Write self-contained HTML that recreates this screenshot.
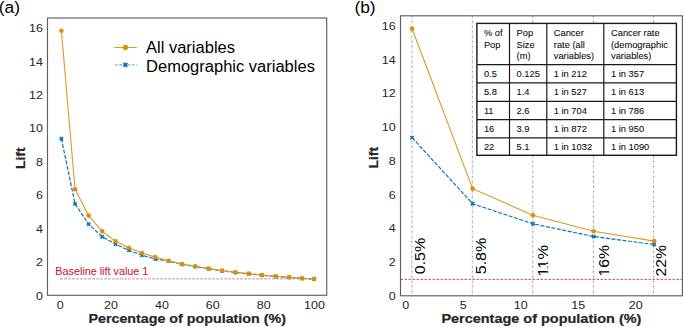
<!DOCTYPE html>
<html><head><meta charset="utf-8"><style>
html,body{margin:0;padding:0;background:#fff;width:685px;height:327px;overflow:hidden}
svg{display:block}
text{font-family:"Liberation Sans",sans-serif}
</style></head><body>
<svg width="685" height="327" viewBox="0 0 685 327">
<rect width="685" height="327" fill="#fff"/>
<text x="-1.2" y="12.6" font-size="17.4" fill="#000">(a)</text>
<text x="42.9" y="299.60" font-size="11.3" fill="#262626" text-anchor="end" textLength="6.95" lengthAdjust="spacingAndGlyphs">0</text>
<text x="42.9" y="266.16" font-size="11.3" fill="#262626" text-anchor="end" textLength="6.95" lengthAdjust="spacingAndGlyphs">2</text>
<text x="42.9" y="232.72" font-size="11.3" fill="#262626" text-anchor="end" textLength="6.95" lengthAdjust="spacingAndGlyphs">4</text>
<text x="42.9" y="199.28" font-size="11.3" fill="#262626" text-anchor="end" textLength="6.95" lengthAdjust="spacingAndGlyphs">6</text>
<text x="42.9" y="165.84" font-size="11.3" fill="#262626" text-anchor="end" textLength="6.95" lengthAdjust="spacingAndGlyphs">8</text>
<text x="42.9" y="132.40" font-size="11.3" fill="#262626" text-anchor="end" textLength="13.90" lengthAdjust="spacingAndGlyphs">10</text>
<text x="42.9" y="98.96" font-size="11.3" fill="#262626" text-anchor="end" textLength="13.90" lengthAdjust="spacingAndGlyphs">12</text>
<text x="42.9" y="65.52" font-size="11.3" fill="#262626" text-anchor="end" textLength="13.90" lengthAdjust="spacingAndGlyphs">14</text>
<text x="42.9" y="32.08" font-size="11.3" fill="#262626" text-anchor="end" textLength="13.90" lengthAdjust="spacingAndGlyphs">16</text>
<text x="60.23" y="309.0" font-size="11.3" fill="#262626" text-anchor="middle" textLength="6.95" lengthAdjust="spacingAndGlyphs">0</text>
<text x="111.09" y="309.0" font-size="11.3" fill="#262626" text-anchor="middle" textLength="13.90" lengthAdjust="spacingAndGlyphs">20</text>
<text x="161.95" y="309.0" font-size="11.3" fill="#262626" text-anchor="middle" textLength="13.90" lengthAdjust="spacingAndGlyphs">40</text>
<text x="212.81" y="309.0" font-size="11.3" fill="#262626" text-anchor="middle" textLength="13.90" lengthAdjust="spacingAndGlyphs">60</text>
<text x="263.67" y="309.0" font-size="11.3" fill="#262626" text-anchor="middle" textLength="13.90" lengthAdjust="spacingAndGlyphs">80</text>
<text x="314.53" y="309.0" font-size="11.3" fill="#262626" text-anchor="middle" textLength="20.85" lengthAdjust="spacingAndGlyphs">100</text>
<text x="187.2" y="322.7" font-size="12.6" font-weight="bold" fill="#262626" stroke="#262626" stroke-width="0.2" text-anchor="middle" textLength="197.5" lengthAdjust="spacingAndGlyphs">Percentage of population (%)</text>
<text transform="translate(24.8,158.2) rotate(-90)" font-size="12.6" font-weight="bold" fill="#262626" stroke="#262626" stroke-width="0.2" text-anchor="middle" textLength="21.5" lengthAdjust="spacingAndGlyphs">Lift</text>
<line x1="60.23" y1="278.88" x2="314.53" y2="278.88" stroke="#c4899f" stroke-width="1" stroke-dasharray="2.6 1.4"/>
<text x="55.3" y="274.7" font-size="11.1" fill="#c8101e" textLength="93" lengthAdjust="spacingAndGlyphs">Baseline lift value 1</text>
<polyline points="61.40,138.70 75.05,203.90 88.60,224.10 102.20,236.80 115.60,244.10 128.90,250.40 141.90,255.20 155.30,259.10 168.65,261.10 182.05,264.40 195.20,266.60 208.70,268.80 222.10,270.90 235.40,272.50 248.70,273.90 262.00,275.30 275.80,276.50 289.10,277.40 302.10,278.50 314.20,279.10" fill="none" stroke="#0173b2" stroke-width="1.15" stroke-dasharray="4.0 1.55"/>
<polygon points="60.30,136.50 61.40,137.60 62.50,136.50 63.60,137.60 62.50,138.70 63.60,139.80 62.50,140.90 61.40,139.80 60.30,140.90 59.20,139.80 60.30,138.70 59.20,137.60" fill="#0173b2"/>
<polygon points="73.95,201.70 75.05,202.80 76.15,201.70 77.25,202.80 76.15,203.90 77.25,205.00 76.15,206.10 75.05,205.00 73.95,206.10 72.85,205.00 73.95,203.90 72.85,202.80" fill="#0173b2"/>
<polygon points="87.50,221.90 88.60,223.00 89.70,221.90 90.80,223.00 89.70,224.10 90.80,225.20 89.70,226.30 88.60,225.20 87.50,226.30 86.40,225.20 87.50,224.10 86.40,223.00" fill="#0173b2"/>
<polygon points="101.10,234.60 102.20,235.70 103.30,234.60 104.40,235.70 103.30,236.80 104.40,237.90 103.30,239.00 102.20,237.90 101.10,239.00 100.00,237.90 101.10,236.80 100.00,235.70" fill="#0173b2"/>
<polygon points="114.50,241.90 115.60,243.00 116.70,241.90 117.80,243.00 116.70,244.10 117.80,245.20 116.70,246.30 115.60,245.20 114.50,246.30 113.40,245.20 114.50,244.10 113.40,243.00" fill="#0173b2"/>
<polygon points="127.80,248.20 128.90,249.30 130.00,248.20 131.10,249.30 130.00,250.40 131.10,251.50 130.00,252.60 128.90,251.50 127.80,252.60 126.70,251.50 127.80,250.40 126.70,249.30" fill="#0173b2"/>
<polygon points="140.80,253.00 141.90,254.10 143.00,253.00 144.10,254.10 143.00,255.20 144.10,256.30 143.00,257.40 141.90,256.30 140.80,257.40 139.70,256.30 140.80,255.20 139.70,254.10" fill="#0173b2"/>
<polygon points="154.20,256.90 155.30,258.00 156.40,256.90 157.50,258.00 156.40,259.10 157.50,260.20 156.40,261.30 155.30,260.20 154.20,261.30 153.10,260.20 154.20,259.10 153.10,258.00" fill="#0173b2"/>
<polygon points="167.55,258.90 168.65,260.00 169.75,258.90 170.85,260.00 169.75,261.10 170.85,262.20 169.75,263.30 168.65,262.20 167.55,263.30 166.45,262.20 167.55,261.10 166.45,260.00" fill="#0173b2"/>
<polygon points="180.95,262.20 182.05,263.30 183.15,262.20 184.25,263.30 183.15,264.40 184.25,265.50 183.15,266.60 182.05,265.50 180.95,266.60 179.85,265.50 180.95,264.40 179.85,263.30" fill="#0173b2"/>
<polygon points="194.10,264.40 195.20,265.50 196.30,264.40 197.40,265.50 196.30,266.60 197.40,267.70 196.30,268.80 195.20,267.70 194.10,268.80 193.00,267.70 194.10,266.60 193.00,265.50" fill="#0173b2"/>
<polygon points="207.60,266.60 208.70,267.70 209.80,266.60 210.90,267.70 209.80,268.80 210.90,269.90 209.80,271.00 208.70,269.90 207.60,271.00 206.50,269.90 207.60,268.80 206.50,267.70" fill="#0173b2"/>
<polygon points="221.00,268.70 222.10,269.80 223.20,268.70 224.30,269.80 223.20,270.90 224.30,272.00 223.20,273.10 222.10,272.00 221.00,273.10 219.90,272.00 221.00,270.90 219.90,269.80" fill="#0173b2"/>
<polygon points="234.30,270.30 235.40,271.40 236.50,270.30 237.60,271.40 236.50,272.50 237.60,273.60 236.50,274.70 235.40,273.60 234.30,274.70 233.20,273.60 234.30,272.50 233.20,271.40" fill="#0173b2"/>
<polygon points="247.60,271.70 248.70,272.80 249.80,271.70 250.90,272.80 249.80,273.90 250.90,275.00 249.80,276.10 248.70,275.00 247.60,276.10 246.50,275.00 247.60,273.90 246.50,272.80" fill="#0173b2"/>
<polygon points="260.90,273.10 262.00,274.20 263.10,273.10 264.20,274.20 263.10,275.30 264.20,276.40 263.10,277.50 262.00,276.40 260.90,277.50 259.80,276.40 260.90,275.30 259.80,274.20" fill="#0173b2"/>
<polygon points="274.70,274.30 275.80,275.40 276.90,274.30 278.00,275.40 276.90,276.50 278.00,277.60 276.90,278.70 275.80,277.60 274.70,278.70 273.60,277.60 274.70,276.50 273.60,275.40" fill="#0173b2"/>
<polygon points="288.00,275.20 289.10,276.30 290.20,275.20 291.30,276.30 290.20,277.40 291.30,278.50 290.20,279.60 289.10,278.50 288.00,279.60 286.90,278.50 288.00,277.40 286.90,276.30" fill="#0173b2"/>
<polygon points="301.00,276.30 302.10,277.40 303.20,276.30 304.30,277.40 303.20,278.50 304.30,279.60 303.20,280.70 302.10,279.60 301.00,280.70 299.90,279.60 301.00,278.50 299.90,277.40" fill="#0173b2"/>
<polygon points="313.10,276.90 314.20,278.00 315.30,276.90 316.40,278.00 315.30,279.10 316.40,280.20 315.30,281.30 314.20,280.20 313.10,281.30 312.00,280.20 313.10,279.10 312.00,278.00" fill="#0173b2"/>
<polyline points="61.40,30.70 75.05,189.20 88.60,215.60 102.20,231.40 115.60,241.20 128.90,247.80 141.90,253.00 155.30,257.10 168.65,260.80 182.05,264.10 195.20,266.30 208.70,268.50 222.10,270.60 235.40,272.20 248.70,273.60 262.00,275.00 275.80,276.20 289.10,277.10 302.10,278.20 314.20,278.80" fill="none" stroke="#dc9a26" stroke-width="1.1"/>
<circle cx="61.40" cy="30.70" r="2.3" fill="#de8f05"/>
<circle cx="75.05" cy="189.20" r="2.3" fill="#de8f05"/>
<circle cx="88.60" cy="215.60" r="2.3" fill="#de8f05"/>
<circle cx="102.20" cy="231.40" r="2.3" fill="#de8f05"/>
<circle cx="115.60" cy="241.20" r="2.3" fill="#de8f05"/>
<circle cx="128.90" cy="247.80" r="2.3" fill="#de8f05"/>
<circle cx="141.90" cy="253.00" r="2.3" fill="#de8f05"/>
<circle cx="155.30" cy="257.10" r="2.3" fill="#de8f05"/>
<circle cx="168.65" cy="260.80" r="2.3" fill="#de8f05"/>
<circle cx="182.05" cy="264.10" r="2.3" fill="#de8f05"/>
<circle cx="195.20" cy="266.30" r="2.3" fill="#de8f05"/>
<circle cx="208.70" cy="268.50" r="2.3" fill="#de8f05"/>
<circle cx="222.10" cy="270.60" r="2.3" fill="#de8f05"/>
<circle cx="235.40" cy="272.20" r="2.3" fill="#de8f05"/>
<circle cx="248.70" cy="273.60" r="2.3" fill="#de8f05"/>
<circle cx="262.00" cy="275.00" r="2.3" fill="#de8f05"/>
<circle cx="275.80" cy="276.20" r="2.3" fill="#de8f05"/>
<circle cx="289.10" cy="277.10" r="2.3" fill="#de8f05"/>
<circle cx="302.10" cy="278.20" r="2.3" fill="#de8f05"/>
<circle cx="314.20" cy="278.80" r="2.3" fill="#de8f05"/>
<line x1="114.2" y1="47.5" x2="136.8" y2="47.5" stroke="#dc9a26" stroke-width="1.0"/>
<circle cx="125.4" cy="47.5" r="2.7" fill="#de8f05"/>
<line x1="115.2" y1="64.9" x2="137" y2="64.9" stroke="#0173b2" stroke-width="0.9" stroke-opacity="0.8" stroke-dasharray="2.6 1.6"/>
<polygon points="124.23,62.30 125.40,63.47 126.57,62.30 128.00,63.73 126.83,64.90 128.00,66.07 126.57,67.50 125.40,66.33 124.23,67.50 122.80,66.07 123.97,64.90 122.80,63.73" fill="#0173b2"/>
<text x="146.0" y="52.5" font-size="16" fill="#000" textLength="89" lengthAdjust="spacingAndGlyphs">All variables</text>
<text x="146.1" y="71.7" font-size="16" fill="#000" textLength="168.8" lengthAdjust="spacingAndGlyphs">Demographic variables</text>
<rect x="47.5" y="18.0" width="279.20" height="277.30" fill="none" stroke="#606060" stroke-width="1.15"/>
<text x="354.4" y="13.0" font-size="17.4" fill="#000">(b)</text>
<text x="395.6" y="300.00" font-size="11.3" fill="#262626" text-anchor="end" textLength="6.95" lengthAdjust="spacingAndGlyphs">0</text>
<text x="395.6" y="266.24" font-size="11.3" fill="#262626" text-anchor="end" textLength="6.95" lengthAdjust="spacingAndGlyphs">2</text>
<text x="395.6" y="232.48" font-size="11.3" fill="#262626" text-anchor="end" textLength="6.95" lengthAdjust="spacingAndGlyphs">4</text>
<text x="395.6" y="198.72" font-size="11.3" fill="#262626" text-anchor="end" textLength="6.95" lengthAdjust="spacingAndGlyphs">6</text>
<text x="395.6" y="164.96" font-size="11.3" fill="#262626" text-anchor="end" textLength="6.95" lengthAdjust="spacingAndGlyphs">8</text>
<text x="395.6" y="131.20" font-size="11.3" fill="#262626" text-anchor="end" textLength="13.90" lengthAdjust="spacingAndGlyphs">10</text>
<text x="395.6" y="97.44" font-size="11.3" fill="#262626" text-anchor="end" textLength="13.90" lengthAdjust="spacingAndGlyphs">12</text>
<text x="395.6" y="63.68" font-size="11.3" fill="#262626" text-anchor="end" textLength="13.90" lengthAdjust="spacingAndGlyphs">14</text>
<text x="395.6" y="29.92" font-size="11.3" fill="#262626" text-anchor="end" textLength="13.90" lengthAdjust="spacingAndGlyphs">16</text>
<text x="405.70" y="309.0" font-size="11.3" fill="#262626" text-anchor="middle" textLength="6.95" lengthAdjust="spacingAndGlyphs">0</text>
<text x="463.20" y="309.0" font-size="11.3" fill="#262626" text-anchor="middle" textLength="6.95" lengthAdjust="spacingAndGlyphs">5</text>
<text x="520.70" y="309.0" font-size="11.3" fill="#262626" text-anchor="middle" textLength="13.90" lengthAdjust="spacingAndGlyphs">10</text>
<text x="578.20" y="309.0" font-size="11.3" fill="#262626" text-anchor="middle" textLength="13.90" lengthAdjust="spacingAndGlyphs">15</text>
<text x="635.70" y="309.0" font-size="11.3" fill="#262626" text-anchor="middle" textLength="13.90" lengthAdjust="spacingAndGlyphs">20</text>
<text x="541.4" y="322.7" font-size="12.6" font-weight="bold" fill="#262626" stroke="#262626" stroke-width="0.2" text-anchor="middle" textLength="200" lengthAdjust="spacingAndGlyphs">Percentage of population (%)</text>
<text transform="translate(378.2,157.7) rotate(-90)" font-size="12.6" font-weight="bold" fill="#262626" stroke="#262626" stroke-width="0.2" text-anchor="middle" textLength="21.5" lengthAdjust="spacingAndGlyphs">Lift</text>
<line x1="411.90" y1="15.8" x2="411.90" y2="295.8" stroke="#7c7c7c" stroke-width="0.9" stroke-dasharray="1.6 1.2 0.5 1.7"/>
<line x1="472.30" y1="15.8" x2="472.30" y2="295.8" stroke="#7c7c7c" stroke-width="0.9" stroke-dasharray="1.6 1.2 0.5 1.7"/>
<line x1="532.80" y1="15.8" x2="532.80" y2="295.8" stroke="#7c7c7c" stroke-width="0.9" stroke-dasharray="1.6 1.2 0.5 1.7"/>
<line x1="593.40" y1="15.8" x2="593.40" y2="295.8" stroke="#7c7c7c" stroke-width="0.9" stroke-dasharray="1.6 1.2 0.5 1.7"/>
<line x1="653.60" y1="15.8" x2="653.60" y2="295.8" stroke="#7c7c7c" stroke-width="0.9" stroke-dasharray="1.6 1.2 0.5 1.7"/>
<line x1="400.5" y1="279.35" x2="682.4" y2="279.35" stroke="#b83a5c" stroke-width="0.9" stroke-dasharray="2.6 1.4"/>
<g transform="translate(424.9,274.3) rotate(-90)">
<text font-size="14.8" fill="#000" textLength="36.6" lengthAdjust="spacingAndGlyphs">0.5%</text>
</g>
<g transform="translate(485.9,274.3) rotate(-90)">
<text font-size="14.8" fill="#000" textLength="36.6" lengthAdjust="spacingAndGlyphs">5.8%</text>
</g>
<g transform="translate(547.7,276.6) rotate(-90)">
<text font-size="14.8" fill="#000" textLength="31.6" lengthAdjust="spacingAndGlyphs">11%</text>
<rect x="1.08" y="-1.76" width="2.81" height="2.76" fill="#fff"/>
<rect x="5.44" y="-1.76" width="2.73" height="2.76" fill="#fff"/>
<rect x="9.86" y="-1.76" width="2.81" height="2.76" fill="#fff"/>
<rect x="14.22" y="-1.76" width="2.73" height="2.76" fill="#fff"/>
</g>
<g transform="translate(608.9,276.6) rotate(-90)">
<text font-size="14.8" fill="#000" textLength="31.6" lengthAdjust="spacingAndGlyphs">16%</text>
<rect x="1.08" y="-1.76" width="2.81" height="2.76" fill="#fff"/>
<rect x="5.44" y="-1.76" width="2.73" height="2.76" fill="#fff"/>
</g>
<g transform="translate(666.0,276.4) rotate(-90)">
<text font-size="14.8" fill="#000" textLength="31.2" lengthAdjust="spacingAndGlyphs">22%</text>
</g>
<polyline points="412.10,137.60 472.60,203.70 533.00,223.80 593.60,236.50 654.20,244.50" fill="none" stroke="#0173b2" stroke-width="1.15" stroke-dasharray="4.0 1.55"/>
<polygon points="411.00,135.40 412.10,136.50 413.20,135.40 414.30,136.50 413.20,137.60 414.30,138.70 413.20,139.80 412.10,138.70 411.00,139.80 409.90,138.70 411.00,137.60 409.90,136.50" fill="#0173b2"/>
<polygon points="471.50,201.50 472.60,202.60 473.70,201.50 474.80,202.60 473.70,203.70 474.80,204.80 473.70,205.90 472.60,204.80 471.50,205.90 470.40,204.80 471.50,203.70 470.40,202.60" fill="#0173b2"/>
<polygon points="531.90,221.60 533.00,222.70 534.10,221.60 535.20,222.70 534.10,223.80 535.20,224.90 534.10,226.00 533.00,224.90 531.90,226.00 530.80,224.90 531.90,223.80 530.80,222.70" fill="#0173b2"/>
<polygon points="592.50,234.30 593.60,235.40 594.70,234.30 595.80,235.40 594.70,236.50 595.80,237.60 594.70,238.70 593.60,237.60 592.50,238.70 591.40,237.60 592.50,236.50 591.40,235.40" fill="#0173b2"/>
<polygon points="653.10,242.30 654.20,243.40 655.30,242.30 656.40,243.40 655.30,244.50 656.40,245.60 655.30,246.70 654.20,245.60 653.10,246.70 652.00,245.60 653.10,244.50 652.00,243.40" fill="#0173b2"/>
<polyline points="412.10,28.70 472.60,188.70 533.00,215.30 593.60,231.20 654.20,241.10" fill="none" stroke="#dc9a26" stroke-width="1.1"/>
<circle cx="412.10" cy="28.70" r="2.3" fill="#de8f05"/>
<circle cx="472.60" cy="188.70" r="2.3" fill="#de8f05"/>
<circle cx="533.00" cy="215.30" r="2.3" fill="#de8f05"/>
<circle cx="593.60" cy="231.20" r="2.3" fill="#de8f05"/>
<circle cx="654.20" cy="241.10" r="2.3" fill="#de8f05"/>
<rect x="400.5" y="15.8" width="281.90" height="280.00" fill="none" stroke="#606060" stroke-width="1.15"/>
<rect x="476.9" y="23.4" width="199.50" height="131.90" fill="#fff"/>
<line x1="509.5" y1="23.4" x2="509.5" y2="155.3" stroke="#1a1a1a" stroke-width="1.2"/>
<line x1="546.8" y1="23.4" x2="546.8" y2="155.3" stroke="#1a1a1a" stroke-width="1.2"/>
<line x1="603.8" y1="23.4" x2="603.8" y2="155.3" stroke="#1a1a1a" stroke-width="1.2"/>
<line x1="476.9" y1="64.6" x2="676.4" y2="64.6" stroke="#1a1a1a" stroke-width="1.2"/>
<line x1="476.9" y1="82.9" x2="676.4" y2="82.9" stroke="#1a1a1a" stroke-width="1.2"/>
<line x1="476.9" y1="101.3" x2="676.4" y2="101.3" stroke="#1a1a1a" stroke-width="1.2"/>
<line x1="476.9" y1="119.7" x2="676.4" y2="119.7" stroke="#1a1a1a" stroke-width="1.2"/>
<line x1="476.9" y1="137.9" x2="676.4" y2="137.9" stroke="#1a1a1a" stroke-width="1.2"/>
<rect x="476.9" y="23.4" width="199.50" height="131.90" fill="none" stroke="#1a1a1a" stroke-width="1.4"/>
<text x="483.9" y="36.00" font-size="9.3" fill="#111" stroke="#111" stroke-width="0.1">% of</text>
<text x="483.9" y="47.50" font-size="9.3" fill="#111" stroke="#111" stroke-width="0.1">Pop</text>
<text x="516.6" y="36.00" font-size="9.3" fill="#111" stroke="#111" stroke-width="0.1">Pop</text>
<text x="516.6" y="47.50" font-size="9.3" fill="#111" stroke="#111" stroke-width="0.1">Size</text>
<text x="516.6" y="59.00" font-size="9.3" fill="#111" stroke="#111" stroke-width="0.1">(m)</text>
<text x="553.8" y="36.00" font-size="9.3" fill="#111" stroke="#111" stroke-width="0.1">Cancer</text>
<text x="553.8" y="47.50" font-size="9.3" fill="#111" stroke="#111" stroke-width="0.1">rate (all</text>
<text x="553.8" y="59.00" font-size="9.3" fill="#111" stroke="#111" stroke-width="0.1">variables)</text>
<text x="611.0" y="36.00" font-size="9.3" fill="#111" stroke="#111" stroke-width="0.1">Cancer rate</text>
<text x="611.0" y="47.50" font-size="9.3" fill="#111" stroke="#111" stroke-width="0.1">(demographic</text>
<text x="611.0" y="59.00" font-size="9.3" fill="#111" stroke="#111" stroke-width="0.1">variables)</text>
<text x="483.9" y="76.90" font-size="9.3" fill="#111" stroke="#111" stroke-width="0.1">0.5</text>
<text x="516.6" y="76.90" font-size="9.3" fill="#111" stroke="#111" stroke-width="0.1">0.125</text>
<text x="553.8" y="76.90" font-size="9.3" fill="#111" stroke="#111" stroke-width="0.1">1 in 212</text>
<text x="611.0" y="76.90" font-size="9.3" fill="#111" stroke="#111" stroke-width="0.1">1 in 357</text>
<text x="483.9" y="95.20" font-size="9.3" fill="#111" stroke="#111" stroke-width="0.1">5.8</text>
<text x="516.6" y="95.20" font-size="9.3" fill="#111" stroke="#111" stroke-width="0.1">1.4</text>
<text x="553.8" y="95.20" font-size="9.3" fill="#111" stroke="#111" stroke-width="0.1">1 in 527</text>
<text x="611.0" y="95.20" font-size="9.3" fill="#111" stroke="#111" stroke-width="0.1">1 in 613</text>
<text x="483.9" y="113.60" font-size="9.3" fill="#111" stroke="#111" stroke-width="0.1">11</text>
<text x="516.6" y="113.60" font-size="9.3" fill="#111" stroke="#111" stroke-width="0.1">2.6</text>
<text x="553.8" y="113.60" font-size="9.3" fill="#111" stroke="#111" stroke-width="0.1">1 in 704</text>
<text x="611.0" y="113.60" font-size="9.3" fill="#111" stroke="#111" stroke-width="0.1">1 in 786</text>
<text x="483.9" y="132.00" font-size="9.3" fill="#111" stroke="#111" stroke-width="0.1">16</text>
<text x="516.6" y="132.00" font-size="9.3" fill="#111" stroke="#111" stroke-width="0.1">3.9</text>
<text x="553.8" y="132.00" font-size="9.3" fill="#111" stroke="#111" stroke-width="0.1">1 in 872</text>
<text x="611.0" y="132.00" font-size="9.3" fill="#111" stroke="#111" stroke-width="0.1">1 in 950</text>
<text x="483.9" y="150.20" font-size="9.3" fill="#111" stroke="#111" stroke-width="0.1">22</text>
<text x="516.6" y="150.20" font-size="9.3" fill="#111" stroke="#111" stroke-width="0.1">5.1</text>
<text x="553.8" y="150.20" font-size="9.3" fill="#111" stroke="#111" stroke-width="0.1">1 in 1032</text>
<text x="611.0" y="150.20" font-size="9.3" fill="#111" stroke="#111" stroke-width="0.1">1 in 1090</text>
</svg>
</body></html>
